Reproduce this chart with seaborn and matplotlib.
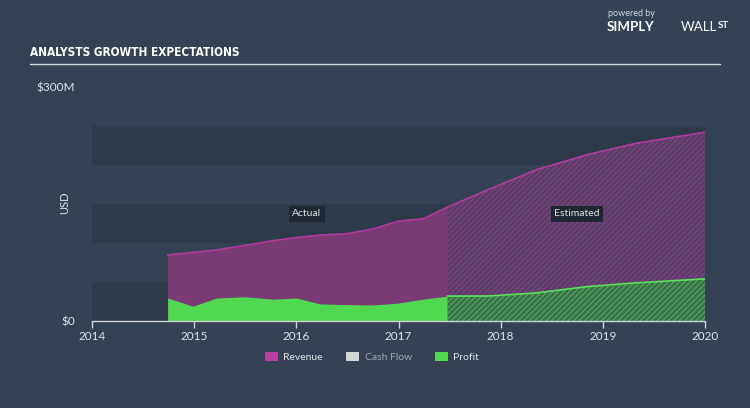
import numpy as np
import pandas as pd
import matplotlib
matplotlib.use("Agg")
import matplotlib.pyplot as plt
from matplotlib.patches import Patch
from matplotlib.lines import Line2D
import seaborn as sns

# --- datos (millones USD) ---
YEARS_ACTUAL = [2014.74, 2014.99, 2015.22, 2015.5, 2015.77, 2016.0, 2016.23,
                2016.5, 2016.75, 2017.0, 2017.24, 2017.48]
REVENUE_ACTUAL = [84.6, 88, 91, 97, 103, 107, 110, 112, 118, 128, 131, 146]
PROFIT_ACTUAL = [29.5, 19, 29.5, 31, 28, 29.5, 22, 21, 20.5, 23, 28, 32]

YEARS_EST = [2017.48, 2017.87, 2018.35, 2018.84, 2019.33, 2020.0]
REVENUE_EST = [146, 168, 194, 213, 228, 242]
PROFIT_EST = [32, 32, 36, 44, 49, 54]

X_TICKS = [2014, 2015, 2016, 2017, 2018, 2019, 2020]
Y_TICKS = [0, 300]
Y_LABELS = ["$0", "$300M"]

# --- colores ---
BG = "#344254"
BAND = "#2e3a4a"
C_REV_FILL = "#7a3a76"
C_REV_LINE = "#b23aa0"
C_REV_EST = "#5e3b69"
C_PROFIT = "#50d850"
C_PROFIT_EST = "#3b7448"
TXT = "#dfe2e6"

sns.set_theme(style="dark")
plt.rcParams["font.family"] = ["Lato", "DejaVu Sans"]
plt.rcParams["hatch.linewidth"] = 0.6

df_act = pd.DataFrame({"year": YEARS_ACTUAL, "revenue": REVENUE_ACTUAL, "profit": PROFIT_ACTUAL})
df_est = pd.DataFrame({"year": YEARS_EST, "revenue": REVENUE_EST, "profit": PROFIT_EST})

fig = plt.figure(figsize=(7.5, 4.08), dpi=100, facecolor=BG)
ax = fig.add_axes([92 / 750, 87 / 408, 613 / 750, 234 / 408])
ax.set_facecolor(BG)

# bandas horizontales de fondo
for lo in (0, 100, 200):
    ax.axhspan(lo, lo + 50, color=BAND, zorder=0, lw=0)

# real
ax.fill_between(df_act["year"], 0, df_act["revenue"], color=C_REV_FILL, lw=0, zorder=1)
ax.fill_between(df_act["year"], 0, df_act["profit"], color=C_PROFIT, lw=0, zorder=2)

# estimado (rayado)
ax.fill_between(df_est["year"], 0, df_est["revenue"], facecolor=C_REV_EST,
                edgecolor="#804c88", hatch="//////", lw=0, zorder=1)
ax.fill_between(df_est["year"], 0, df_est["profit"], facecolor=C_PROFIT_EST,
                edgecolor="#62b866", hatch="//////", lw=0, zorder=2)

sns.lineplot(data=df_act, x="year", y="revenue", color=C_REV_LINE, lw=1.2, ax=ax, zorder=3)
sns.lineplot(data=df_est, x="year", y="revenue", color=C_REV_LINE, lw=1.2, ax=ax, zorder=3)
sns.lineplot(data=df_est, x="year", y="profit", color="#5ce05c", lw=1.2, ax=ax, zorder=3)

ax.set_xlim(2014, 2020)
ax.set_ylim(0, 300)
ax.set_xticks(X_TICKS)
ax.set_xticklabels([str(y) for y in X_TICKS])
ax.set_yticks(Y_TICKS)
ax.set_yticklabels(Y_LABELS)
ax.set_xlabel("")
ax.set_ylabel("")
ax.grid(False)
for side in ("top", "right", "left"):
    ax.spines[side].set_visible(False)
ax.spines["bottom"].set_color("#cfd3d8")
ax.spines["bottom"].set_linewidth(1)
ax.tick_params(axis="x", colors="#cfd3d8", direction="out", length=5, width=1,
               labelcolor=TXT, labelsize=8.5, pad=2, bottom=True)
ax.tick_params(axis="y", length=0, labelcolor=TXT, labelsize=8.5, pad=12)

# etiquetas Actual / Estimated
box = dict(boxstyle="square,pad=0.3", fc="#1f2732", ec="none")
ax.text(2014 + (307 - 92) / 102.2, 300 * (321 - 214) / 234, "Actual", color=TXT,
        fontsize=7.5, ha="center", va="center", bbox=box, zorder=5)
ax.text(2014 + (577 - 92) / 102.2, 300 * (321 - 214) / 234, "Estimated", color=TXT,
        fontsize=7.5, ha="center", va="center", bbox=box, zorder=5)

# titulo y linea
fig.text(30 / 750, 1 - 52 / 408, "ANALYSTS GROWTH EXPECTATIONS", color="white",
         fontsize=8.5, fontweight="bold", fontstretch="condensed", va="center", ha="left",
         family="DejaVu Sans")
fig.add_artist(Line2D([30 / 750, 720 / 750], [1 - 64 / 408, 1 - 64 / 408],
                      color="#d6dae0", lw=1))
fig.text(65 / 750, 1 - 203 / 408, "USD", color=TXT, fontsize=8, rotation=90,
         ha="center", va="center")

# logo
fig.text(608 / 750, 1 - 14 / 408, "powered by", color="#cfd3d8", fontsize=6.5, ha="left", va="center")
fig.text(607 / 750, 1 - 27 / 408, "SIMPLY", color="white", fontsize=9.5, fontweight="bold",
         ha="left", va="center")
fig.text(681 / 750, 1 - 27 / 408, "WALL", color="white", fontsize=9.5, ha="left", va="center")
fig.text(718 / 750, 1 - 25 / 408, "ST", color="white", fontsize=7, fontweight="bold",
         ha="left", va="center")

# leyenda
handles = [Patch(facecolor="#b93fa6", edgecolor="none", label="Revenue"),
           Patch(facecolor="#d4d4d4", edgecolor="none", label="Cash Flow"),
           Patch(facecolor=C_PROFIT, edgecolor="none", label="Profit")]
leg = fig.legend(handles=handles, loc="center", bbox_to_anchor=(372 / 750, 1 - 357 / 408),
                 ncol=3, frameon=False, fontsize=7.5, handlelength=1.3, handleheight=1.0,
                 handletextpad=0.5, columnspacing=2.2)
for t, c in zip(leg.get_texts(), [TXT, "#a0a6ae", TXT]):
    t.set_color(c)

fig.savefig("out.png", dpi=100, facecolor=BG)
